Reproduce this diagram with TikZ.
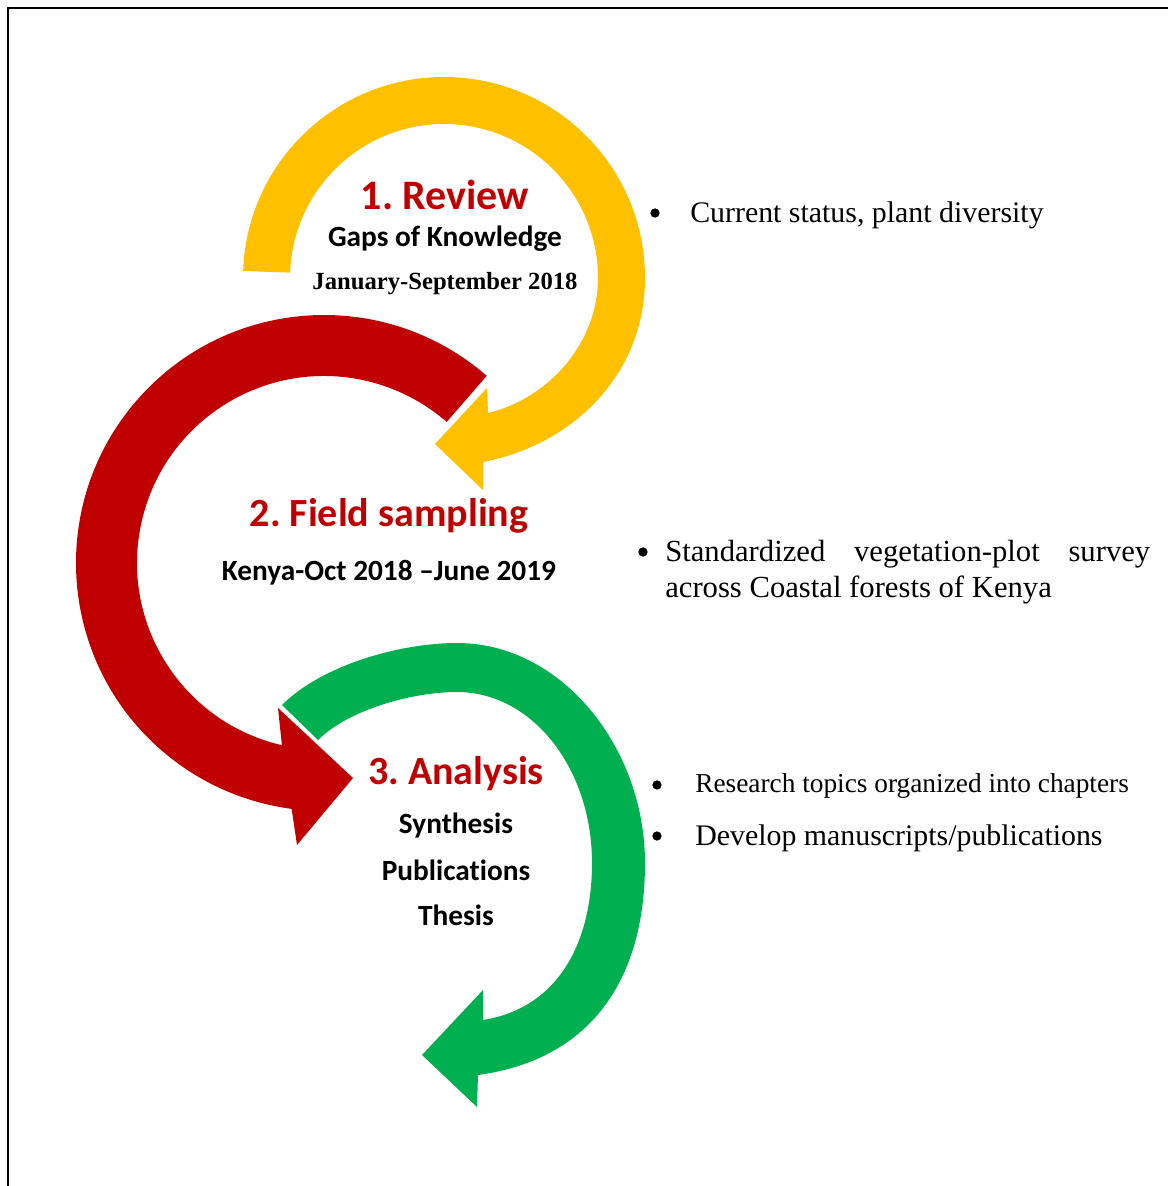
\documentclass[tikz,border=0pt]{standalone}
\usepackage{fontspec}
\setmainfont{Liberation Serif}
\newfontfamily\calib[Ligatures=NoCommon]{Carlito}
\usetikzlibrary{calc}

\definecolor{revyellow}{HTML}{FFC000}
\definecolor{fieldred}{HTML}{C00000}
\definecolor{anagreen}{HTML}{00B050}

\frenchspacing

\begin{document}
\begin{tikzpicture}[x=0.75pt,y=-0.75pt,
  steptitle/.style={font=\calib\bfseries\fontsize{30}{36}\selectfont, text=fieldred, anchor=base, inner sep=0pt},
  stepsub/.style={font=\calib\bfseries\fontsize{22}{26}\selectfont, text=black, anchor=base, inner sep=0pt},
  stepdate/.style={font=\bfseries\fontsize{18.5}{22}\selectfont, anchor=base, inner sep=0pt},
  note/.style={font=\fontsize{22.4}{27}\selectfont, anchor=base west, inner sep=0pt},
  dot/.style={circle, fill=black, inner sep=0pt, minimum size=7pt},
]
\useasboundingbox (0,0) rectangle (1168,1186);

% outer frame (top and left edges)
\draw[line width=2.2pt] (8,1186) -- (8,8) -- (1168,8);

% centres of the curved arrows
\coordinate (yc) at (444,278);
\coordinate (rc) at (324,563);

% 3. green arrow
\path[fill=anagreen]
  (282,705) .. controls (322,665) and (400,643) .. (457,643)
  .. controls (562,643) and (645,748) .. (645,863)
  .. controls (645,983) and (588,1060) .. (478,1075)
  -- (477,1107) -- (422,1055) -- (483,990) -- (483,1020)
  .. controls (558,1008) and (592,943) .. (592,863)
  .. controls (592,768) and (532,692) .. (457,692)
  .. controls (412,692) and (348,710) .. (318,740)
  -- cycle;

% 2. red arrow
\path[fill=fieldred]
  ($(rc)+(-49:248)$) arc[start angle=-49, end angle=-262.5, radius=248]
  -- (297,845) -- (353,778) -- (278,708)
  -- ($(rc)+(-257:187)$) arc[start angle=-257, end angle=-49, radius=187]
  -- cycle;

% 1. yellow arrow
\path[fill=revyellow]
  ($(yc)+(-178:201)$) arc[start angle=-178, end angle=0, radius=201]
  .. controls (645,375) and (572,445) .. (483,462)
  -- (483,490) -- (435,444) -- (487,388) -- (488,413)
  .. controls (550,398) and (598,342) .. (598,278)
  arc[start angle=0, end angle=-178, radius=154]
  -- cycle;

% step labels
\node[steptitle, font=\calib\bfseries\fontsize{31.5}{36}\selectfont] (t1) at (445,209) {1. Review};
\node[stepsub]   (s1) at (445,246) {Gaps of Knowledge};
\node[stepdate]  (d1) at (445,289) {January-September 2018};

\node[steptitle] (t2) at (389,526) {2. Field sampling};
\node[stepsub]   (s2) at (389,580) {Kenya-Oct 2018 –June 2019};

\node[steptitle] (t3) at (456,784) {3. Analysis};
\node[stepsub]   (s3a) at (456,833) {Synthesis};
\node[stepsub]   (s3b) at (456,880) {Publications};
\node[stepsub]   (s3c) at (456,925) {Thesis};

% bullet notes
\node[dot] (b1) at (655,213) {};
\node[note] (n1) at (690,222) {Current status, plant diversity};

\node[dot] (b2) at (643,552) {};
\node[note, font=\fontsize{23}{27}\selectfont] (n2a) at (665,561)
  {\makebox[363.75pt][s]{Standardized vegetation-plot survey}};
\node[note, font=\fontsize{23}{27}\selectfont] (n2b) at (665,597)
  {across Coastal forests of Kenya};

\node[dot] (b3) at (657,785) {};
\node[note, font=\fontsize{20.5}{25}\selectfont] (n3a) at (695,792)
  {Research topics organized into chapters};
\node[dot] (b4) at (657,836) {};
\node[note] (n3b) at (695,845) {Develop manuscripts/publications};
\end{tikzpicture}
\end{document}
